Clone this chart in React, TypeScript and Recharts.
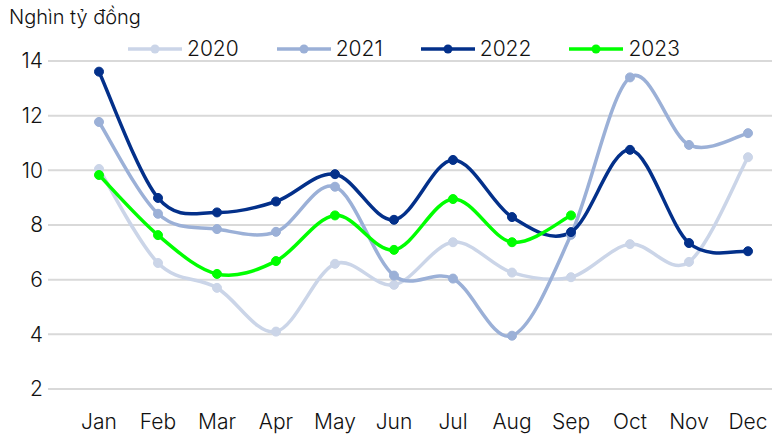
import React from 'react';
import { LineChart, Line, XAxis, YAxis, CartesianGrid, Legend } from 'recharts';

const months = ['Jan', 'Feb', 'Mar', 'Apr', 'May', 'Jun', 'Jul', 'Aug', 'Sep', 'Oct', 'Nov', 'Dec'];
const v2020 = [10.05, 6.61, 5.7, 4.1, 6.58, 5.81, 7.37, 6.26, 6.09, 7.3, 6.65, 10.48];
const v2021 = [11.77, 8.41, 7.85, 7.75, 9.4, 6.15, 6.04, 3.95, 7.64, 13.4, 10.93, 11.36];
const v2022 = [13.61, 8.99, 8.46, 8.86, 9.86, 8.19, 10.38, 8.29, 7.74, 10.75, 7.34, 7.04];
const v2023: (number | null)[] = [9.83, 7.63, 6.21, 6.68, 8.35, 7.09, 8.95, 7.37, 8.35, null, null, null];
const yTicks = [2, 4, 6, 8, 10, 12, 14];
const yTitle = 'Nghìn tỷ đồng';

const seriesDefs = [
  { key: '2020', color: '#cbd5e8', values: v2020 },
  { key: '2021', color: '#9bb0d7', values: v2021 },
  { key: '2022', color: '#03308a', values: v2022 },
  { key: '2023', color: '#00ff00', values: v2023 },
];

const data = months.map((m, i) => {
  const row: Record<string, any> = { month: m };
  seriesDefs.forEach((s) => {
    row[s.key] = s.values[i];
  });
  return row;
});

const FONT = 'Inter, "Noto Sans", sans-serif';
const WEIGHT = 300;

// Excel-like smoothed line (Catmull-Rom style bezier)
function smoothCurve(context: any) {
  let pts: [number, number][] = [];
  return {
    areaStart() {},
    areaEnd() {},
    lineStart() {
      pts = [];
    },
    lineEnd() {
      const n = pts.length;
      if (n === 0) return;
      context.moveTo(pts[0][0], pts[0][1]);
      if (n === 1) {
        context.lineTo(pts[0][0], pts[0][1]);
        return;
      }
      const t = 1 / 6;
      for (let i = 0; i < n - 1; i++) {
        const p0 = pts[Math.max(0, i - 1)];
        const p1 = pts[i];
        const p2 = pts[i + 1];
        const p3 = pts[Math.min(n - 1, i + 2)];
        context.bezierCurveTo(
          p1[0] + (p2[0] - p0[0]) * t,
          p1[1] + (p2[1] - p0[1]) * t,
          p2[0] - (p3[0] - p1[0]) * t,
          p2[1] - (p3[1] - p1[1]) * t,
          p2[0],
          p2[1]
        );
      }
    },
    point(x: number, y: number) {
      pts.push([+x, +y]);
    },
  };
}

const renderLegend = () => (
  <div style={{ display: 'flex', alignItems: 'center', fontFamily: FONT, fontWeight: WEIGHT, whiteSpace: 'nowrap' }}>
    {seriesDefs.map((s, i) => (
      <div key={s.key} style={{ display: 'flex', alignItems: 'center', marginRight: i < seriesDefs.length - 1 ? 38 : 0 }}>
        <svg width={54} height={12} style={{ display: 'block' }}>
          <line x1={0} y1={6} x2={54} y2={6} stroke={s.color} strokeWidth={3.5} />
          <circle cx={27} cy={6} r={4.5} fill={s.color} />
        </svg>
        <span style={{ marginLeft: 5, fontSize: 21, lineHeight: 1, color: '#111' }}>{s.key}</span>
      </div>
    ))}
  </div>
);

export default function App() {
  return (
    <div style={{ position: 'absolute', left: 0, top: 0, width: 772, height: 437, background: '#fff' }}>
      <div
        style={{
          position: 'absolute',
          left: 9,
          top: 7,
          fontFamily: FONT,
          fontWeight: WEIGHT,
          fontSize: 20,
          lineHeight: 1,
          color: '#111',
          whiteSpace: 'nowrap',
        }}
      >
        {yTitle}
      </div>
      <LineChart width={772} height={437} data={data} margin={{ top: 61, right: 0, bottom: 0, left: 0 }}>
        <CartesianGrid vertical={false} stroke="#d9d9d9" strokeWidth={2} />
        <XAxis
          dataKey="month"
          scale="point"
          padding={{ left: 51, right: 24 }}
          axisLine={false}
          tickLine={false}
          tickSize={0}
          tickMargin={25}
          height={48}
          interval={0}
          tick={{ fill: '#111', fontSize: 21, fontFamily: FONT, fontWeight: WEIGHT }}
        />
        <YAxis
          domain={[2, 14]}
          ticks={yTicks}
          axisLine={false}
          tickLine={false}
          tickSize={0}
          tickMargin={5}
          width={48}
          interval={0}
          tick={{ fill: '#111', fontSize: 21, fontFamily: FONT, fontWeight: WEIGHT }}
        />
        <Legend
          verticalAlign="middle"
          align="center"
          content={renderLegend}
          wrapperStyle={{ left: 128, top: 38, width: 'auto', height: 'auto' }}
        />
        {seriesDefs.map((s) => (
          <Line
            key={s.key}
            dataKey={s.key}
            type={smoothCurve as any}
            stroke={s.color}
            strokeWidth={3.5}
            dot={{ r: 4.5, fill: s.color, stroke: s.color, strokeWidth: 1 }}
            activeDot={false}
            isAnimationActive={false}
          />
        ))}
      </LineChart>
    </div>
  );
}
